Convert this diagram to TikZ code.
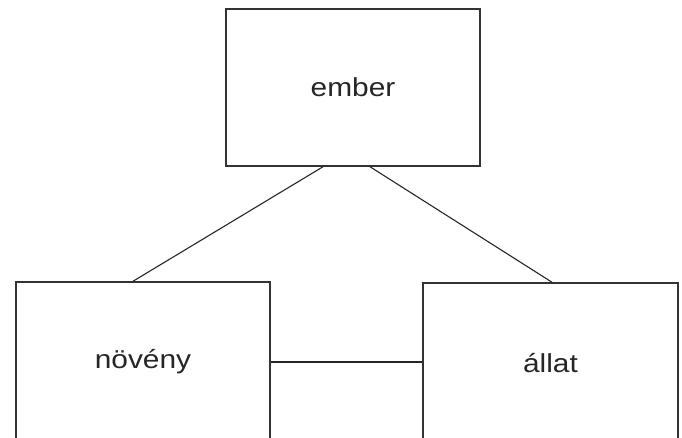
\documentclass[tikz,border=0pt]{standalone}
\usepackage{fontspec}
\newfontfamily\lab{Liberation Sans}[FakeStretch=1.15]
\begin{document}
\begin{tikzpicture}[x=1pt,y=-1pt,
  box/.style={draw=black!80,line width=1.5pt,rectangle,inner sep=0pt,
    font=\lab\fontsize{26}{30}\selectfont,text=black!85},
  link/.style={draw=black!85,line width=1.1pt}]
\useasboundingbox[fill=white] (0,0) rectangle (682,438);
\clip (0,0) rectangle (682,438);
\node[box,minimum width=254pt,minimum height=157pt] (ember) at (353,87.5) {ember};
\node[box,minimum width=254pt,minimum height=160pt] (noveny) at (143,362) {növény};
\node[box,minimum width=255pt,minimum height=160pt] (allat) at (550.5,363) {állat};
\draw[link] (ember.south) ++(-30pt,0) coordinate (e1);
\draw[link] (e1) -- (noveny.north -| 133,0);
\draw[link] (ember.south -| 370,0) -- (allat.north -| 552,0);
\draw[link] (noveny.east |- 0,362) -- (allat.west |- 0,362);
\end{tikzpicture}
\end{document}
